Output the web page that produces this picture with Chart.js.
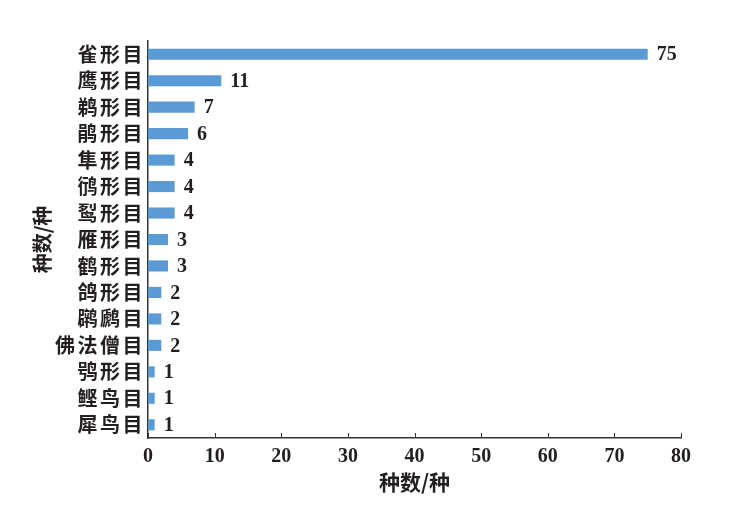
<!DOCTYPE html>
<html>
<head>
<meta charset="utf-8">
<script src="https://cdn.jsdelivr.net/npm/chart.js@4"></script>
<style>
    html, body { margin: 0; padding: 0; background: #fff; }
    #wrap { width: 745px; height: 510px; }
</style>
</head>
<body>
<div id="wrap"><canvas id="ordersChart" width="745" height="510"></canvas></div>
<script>
const categories = ['雀形目', '鹰形目', '鹈形目', '鹃形目', '隼形目', '鸻形目', '䴕形目', '雁形目', '鹤形目', '鸽形目', '䴙䴘目', '佛法僧目', '鸮形目', '鲣鸟目', '犀鸟目']
const speciesCounts = [75, 11, 7, 6, 4, 4, 4, 3, 3, 2, 2, 2, 1, 1, 1]
const xTicks = [0, 10, 20, 30, 40, 50, 60, 70, 80]
const axisTitle = '种数/种'

const textColor = '#231f20'
const axisColor = '#333333'
const cjkFont = '"Noto Sans CJK SC", "Noto Sans", sans-serif'
const numFont = '"Liberation Serif", "DejaVu Serif", serif'

// value labels at bar ends + small tick marks pointing up from the x axis
const barLabels = {
    id: 'barLabels',
    afterDatasetsDraw(chart) {
        const ctx = chart.ctx
        const meta = chart.getDatasetMeta(0)
        ctx.save()
        ctx.fillStyle = textColor
        ctx.font = 'bold 20px ' + numFont
        ctx.textAlign = 'left'
        ctx.textBaseline = 'middle'
        meta.data.forEach((bar, i) => {
            ctx.fillText(String(speciesCounts[i]), bar.x + 9, bar.y + 1)
        })

        const x = chart.scales.x
        ctx.strokeStyle = axisColor
        ctx.lineWidth = 1
        xTicks.forEach(v => {
            const px = Math.round(x.getPixelForValue(v)) + 0.5
            ctx.beginPath()
            ctx.moveTo(px, x.top)
            ctx.lineTo(px, x.top - 5)
            ctx.stroke()
        })
        ctx.restore()
    }
}

// the category names in the source are set with a little letter spacing
function spacedLabels(scale) {
    const baseDraw = Object.getPrototypeOf(scale).drawLabels
    scale.drawLabels = function (area) {
        const c = this.ctx
        c.save()
        c.letterSpacing = '2.5px'
        baseDraw.call(this, area)
        c.restore()
    }
}

const ctx = document.getElementById('ordersChart').getContext('2d')
new Chart(ctx, {
    type: 'bar',
    data: {
        labels: categories,
        datasets: [{
            data: speciesCounts,
            backgroundColor: '#5b9bd5',
            borderWidth: 0,
            barPercentage: 0.42,
            categoryPercentage: 1.0,
        }]
    },
    options: {
        indexAxis: 'y',
        responsive: false,
        animation: false,
        events: [],
        layout: { padding: { left: 0, right: 64, top: 41, bottom: 0 } },
        plugins: {
            legend: { display: false },
            tooltip: { enabled: false },
        },
        scales: {
            x: {
                min: 0,
                max: 80,
                afterFit(scale) { scale.height = 72 },
                afterBuildTicks(scale) { scale.ticks = xTicks.map(v => ({ value: v })) },
                grid: { display: false, drawTicks: false },
                border: { display: true, color: axisColor, width: 1.5 },
                ticks: {
                    color: textColor,
                    padding: 7,
                    font: { family: numFont, size: 20, weight: 'bold' },
                },
                title: {
                    display: true,
                    text: axisTitle,
                    color: textColor,
                    font: { family: cjkFont, size: 21, weight: 'bold' },
                    padding: { top: 0, bottom: 15 },
                },
            },
            y: {
                afterFit(scale) { scale.width = 148 },
                afterUpdate: spacedLabels,
                grid: { display: false, drawTicks: false },
                border: { display: true, color: axisColor, width: 1.5 },
                ticks: {
                    color: textColor,
                    padding: 3,
                    autoSkip: false,
                    font: { family: cjkFont, size: 20, weight: 'bold' },
                },
                title: {
                    display: true,
                    text: axisTitle,
                    color: textColor,
                    font: { family: cjkFont, size: 20, weight: 'bold' },
                    padding: { top: 30, bottom: 0 },
                },
            }
        }
    },
    plugins: [barLabels],
})
</script>
</body>
</html>
